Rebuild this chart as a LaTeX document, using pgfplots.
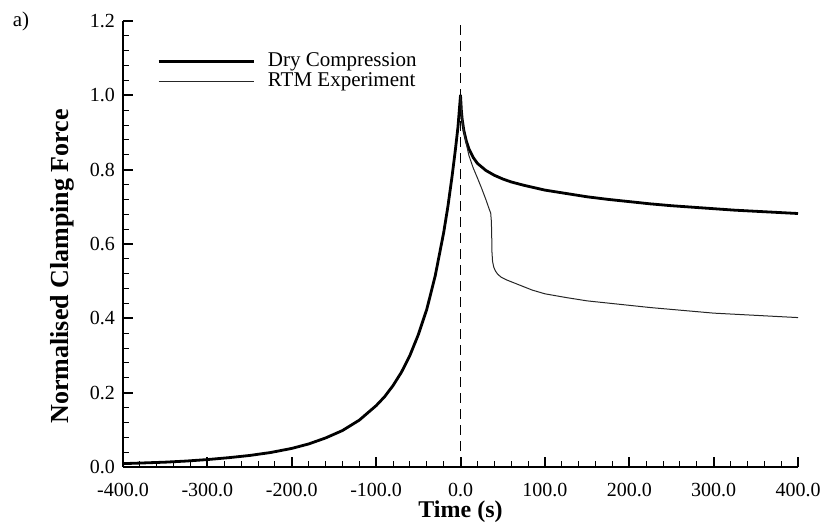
\documentclass[border=0pt]{standalone}
\usepackage{fontspec}
\setmainfont{Liberation Serif}
\usepackage{pgfplots}
\pgfplotsset{compat=1.18}
\usetikzlibrary{calc}

\begin{document}
\begin{tikzpicture}
\begin{axis}[
  name=ax,
  scale only axis,
  width=337.5pt, height=223pt,
  xmin=-400, xmax=400, ymin=0, ymax=1.2,
  axis x line*=bottom, axis y line*=left,
  axis line style={-, line width=1pt},
  xtick={-400,-300,-200,-100,0,100,200,300,400},
  xticklabels={-400.0,-300.0,-200.0,-100.0,0.0,100.0,200.0,300.0,400.0},
  ytick={0,0.2,0.4,0.6,0.8,1.0,1.2},
  yticklabels={0.0,0.2,0.4,0.6,0.8,1.0,1.2},
  minor x tick num=4, minor y tick num=4,
  tick align=inside,
  major tick length=5pt, minor tick length=3pt,
  every major tick/.append style={line width=1pt, black},
  every minor tick/.append style={line width=0.5pt, black},
  tick label style={font=\fontsize{10}{12}\selectfont},
  xticklabel style={yshift=-4.5pt},
  yticklabel style={xshift=-0.5pt},
  xlabel={Time (s)},
  ylabel={Normalised Clamping Force},
  xlabel style={at={(axis description cs:0.5,-0.101)}, anchor=center,
    font=\fontsize{12}{14}\selectfont\bfseries},
  ylabel style={at={(axis description cs:-0.0904,0.45)}, anchor=center,
    font=\fontsize{13}{15}\selectfont\bfseries},
  legend style={draw=none, fill=none, at={(axis description cs:0.05,0.929)},
    anchor=north west, font=\fontsize{10.5}{12}\selectfont,
    row sep=1.5pt, column sep=6.5pt, inner sep=0pt,
    nodes={inner sep=0pt}},
  legend cell align=left,
  legend image code/.code={\draw[#1] (0pt,0pt) -- (47.5pt,0pt);},
  line join=round,
]
% event marker at t = 0
\addplot[black, line width=0.6pt, dash pattern=on 5pt off 3pt, forget plot]
  coordinates {(0,0) (0,1.2)};

% dry compression (loading and relaxation)
\addplot[black, line width=1.4pt] coordinates {
  (-400,0.009) (-375,0.011) (-350,0.013) (-325,0.016) (-300,0.020)
  (-275,0.025) (-250,0.031) (-225,0.039) (-200,0.050) (-180,0.062)
  (-160,0.078) (-140,0.098) (-120,0.126) (-100,0.165) (-90,0.189)
  (-80,0.219) (-70,0.255) (-60,0.300) (-50,0.356) (-40,0.424)
  (-30,0.514) (-20,0.630) (-15,0.700) (-10,0.782) (-6,0.855)
  (-3,0.915) (-1,0.972) (0,1.0)
  (1,0.96) (2,0.935) (4,0.905) (7,0.876) (10,0.856) (15,0.833)
  (20,0.817) (30,0.798) (40,0.785) (50,0.775) (60,0.767) (75,0.758)
  (100,0.745) (125,0.736) (150,0.727) (175,0.720) (200,0.714)
  (225,0.708) (250,0.703) (275,0.699) (300,0.695) (325,0.691)
  (350,0.688) (375,0.685) (400,0.682)
};
\addlegendentry{Dry Compression}

% RTM experiment: relaxation with fluid injection
\addplot[black!85, line width=0.5pt] coordinates {
  (0,1.0) (1,0.96) (2,0.935) (4,0.903) (7,0.868) (10,0.838) (15,0.805)
  (20,0.778) (25,0.750) (30,0.720) (34,0.694) (35.8,0.683)
  (36.6,0.660) (37,0.620) (37.3,0.578) (38,0.553) (39.5,0.537)
  (41.5,0.527) (44,0.519) (48,0.511) (55,0.503) (65,0.494)
  (85,0.476) (100,0.466) (125,0.456) (150,0.447) (175,0.441)
  (200,0.435) (225,0.429) (250,0.424) (275,0.419) (300,0.414)
  (325,0.411) (350,0.408) (375,0.405) (400,0.402)
};
\addlegendentry{RTM Experiment}
\end{axis}
\node[font=\fontsize{10.5}{12}\selectfont] at ($(ax.north west)+(-51pt,0pt)$) {a)};
\pgfresetboundingbox
\path[use as bounding box] ($(ax.south west)+(-61.5pt,-28.5pt)$)
  rectangle ($(ax.north east)+(12.5pt,10.5pt)$);
\end{tikzpicture}
\end{document}
